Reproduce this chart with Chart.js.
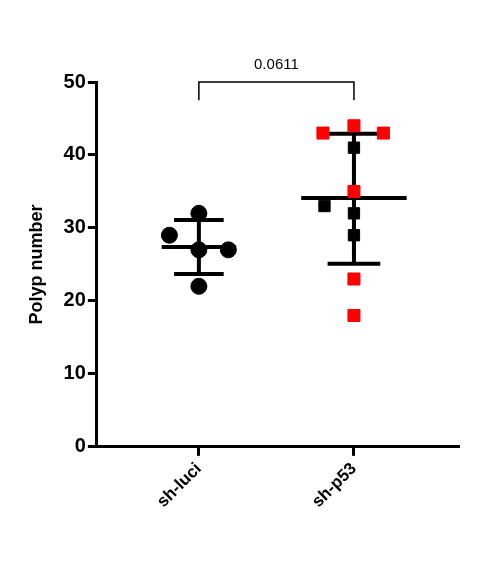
<!DOCTYPE html>
<html><head><meta charset="utf-8">
<script src="https://cdn.jsdelivr.net/npm/chart.js@4"></script>
<style>html,body{margin:0;background:#fff}#w{width:494px;height:567px}</style>
</head><body><div id="w"><canvas id="c"></canvas></div>
<script>
const categories = ["sh-luci", "sh-p53"];
const luciValues = [32, 29, 27, 27, 22];
const luciOffsets = [0, -0.19, 0, 0.19, 0];
const p53Red = [43, 44, 43, 35, 23, 18];
const p53RedOffsets = [-0.2, 0, 0.19, 0, 0, 0];
const p53Black = [41, 33, 32, 29];
const p53BlackOffsets = [0, -0.19, 0, 0];
const means = [27.4, 34.1];
const sdUpper = [31.1, 42.9];
const sdLower = [23.7, 25.1];
const pValue = "0.0611";
const yTicks = [0, 10, 20, 30, 40, 50];

const pts = (vals, offs, c) => vals.map((v, i) => ({x: c + offs[i], y: v}));

const errPlugin = {
  id: 'err',
  beforeDatasetsDraw(chart) {
    const {ctx, scales: {x, y}} = chart;
    ctx.save();
    ctx.strokeStyle = '#000'; ctx.lineWidth = 4; ctx.lineCap = 'butt';
    const meanHalf = [0.24, 0.34], capHalf = [0.16, 0.17];
    means.forEach((m, i) => {
      const c = i + 1, px = x.getPixelForValue(c);
      ctx.beginPath();
      ctx.moveTo(x.getPixelForValue(c - meanHalf[i]), y.getPixelForValue(m));
      ctx.lineTo(x.getPixelForValue(c + meanHalf[i]), y.getPixelForValue(m));
      ctx.moveTo(px, y.getPixelForValue(sdUpper[i]));
      ctx.lineTo(px, y.getPixelForValue(sdLower[i]));
      [sdUpper[i], sdLower[i]].forEach(s => {
        ctx.moveTo(x.getPixelForValue(c - capHalf[i]), y.getPixelForValue(s));
        ctx.lineTo(x.getPixelForValue(c + capHalf[i]), y.getPixelForValue(s));
      });
      ctx.stroke();
    });
    const x1 = x.getPixelForValue(1), x2 = x.getPixelForValue(2);
    const yb = y.getPixelForValue(50), yl = y.getPixelForValue(47.5);
    ctx.lineWidth = 1.5;
    ctx.beginPath();
    ctx.moveTo(x1, yl); ctx.lineTo(x1, yb); ctx.lineTo(x2, yb); ctx.lineTo(x2, yl);
    ctx.stroke();
    ctx.fillStyle = '#000'; ctx.font = '15px "Liberation Sans", Arial';
    ctx.textAlign = 'center'; ctx.textBaseline = 'bottom';
    ctx.fillText(pValue, (x1 + x2) / 2, yb - 10);
    ctx.restore();
  }
};

new Chart(document.getElementById('c'), {
  type: 'scatter',
  data: { datasets: [
    {data: pts(luciValues, luciOffsets, 1), pointStyle: 'circle', radius: 8, backgroundColor: '#000', borderColor: '#000'},
    {data: pts(p53Black, p53BlackOffsets, 2), pointStyle: 'rect', radius: 8, backgroundColor: '#000', borderColor: '#000'},
    {data: pts(p53Red, p53RedOffsets, 2), pointStyle: 'rect', radius: 8.5, backgroundColor: '#ff0000', borderColor: '#ff0000'}
  ]},
  options: {
    responsive: true, maintainAspectRatio: false, animation: false,
    layout: {padding: {top: 82, right: 36, left: 22, bottom: 52}},
    plugins: {legend: {display: false}, tooltip: {enabled: false}},
    scales: {
      x: {
        type: 'linear', min: 0.342, max: 2.671,
        afterBuildTicks: s => { s.ticks = [{value: 1}, {value: 2}]; },
        ticks: {callback: v => categories[v - 1], minRotation: 45, maxRotation: 45, color: '#000',
                font: {size: 17, weight: 'bold', family: '"Liberation Sans", Arial'}},
        grid: {drawOnChartArea: false, tickLength: 9, tickColor: '#000', lineWidth: 3},
        border: {color: '#000', width: 3}
      },
      y: {
        min: 0, max: 50,
        afterBuildTicks: s => { s.ticks = yTicks.map(v => ({value: v})); },
        ticks: {color: '#000', padding: 2, font: {size: 20, weight: 'bold', family: '"Liberation Sans", Arial'}},
        title: {display: true, text: 'Polyp number', color: '#000', padding: {bottom: 14},
                font: {size: 18, weight: 'bold', family: '"Liberation Sans", Arial'}},
        grid: {drawOnChartArea: false, tickLength: 9, tickColor: '#000', lineWidth: 3},
        border: {color: '#000', width: 3}
      }
    }
  },
  plugins: [errPlugin]
});
</script></body></html>
